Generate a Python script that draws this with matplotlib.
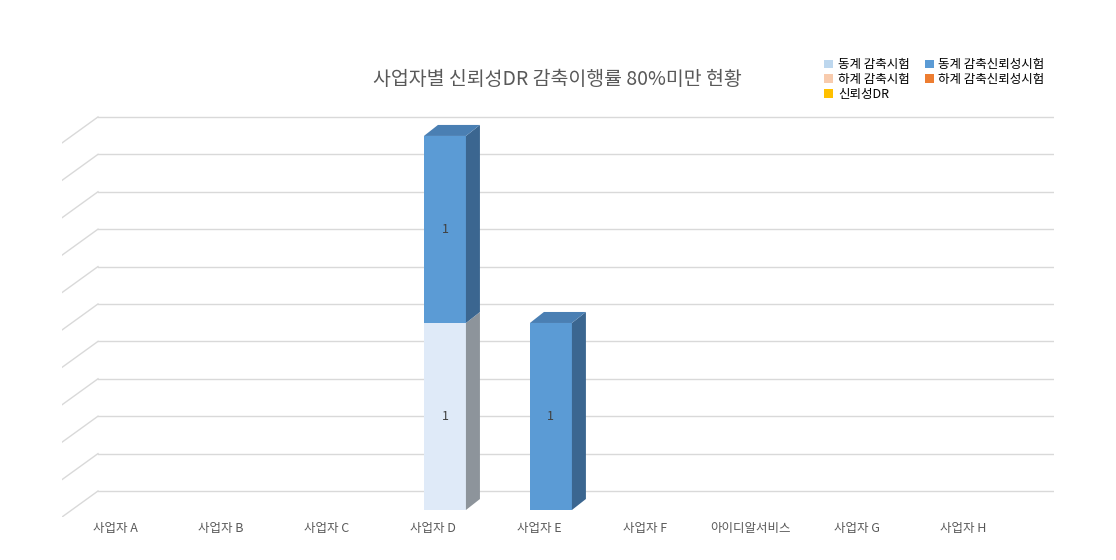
import matplotlib.pyplot as plt
from matplotlib.patches import Polygon, Patch

plt.rcParams['font.family'] = ['Noto Sans CJK KR', 'DejaVu Sans']

categories = ['사업자 A', '사업자 B', '사업자 C', '사업자 D', '사업자 E', '사업자 F', '아이디알서비스', '사업자 G', '사업자 H']
series_names = ['동계 감축시험', '동계 감축신뢰성시험', '하계 감축시험', '하계 감축신뢰성시험', '신뢰성DR']
series_values = [
    [0, 0, 0, 1, 0, 0, 0, 0, 0],
    [0, 0, 0, 1, 1, 0, 0, 0, 0],
    [0, 0, 0, 0, 0, 0, 0, 0, 0],
    [0, 0, 0, 0, 0, 0, 0, 0, 0],
    [0, 0, 0, 0, 0, 0, 0, 0, 0],
]
legend_colors = ['#bdd7ee', '#5b9bd5', '#f8cbad', '#ed7d31', '#ffc000']
front_colors = ['#dfeaf8', '#5b9bd5', '#f8cbad', '#ed7d31', '#ffc000']
side_colors = ['#8d949b', '#3b6690', '#b08c77', '#a9561f', '#b38600']
top_colors = ['#c5d6ea', '#4a7fb3', '#e0b69a', '#d06a26', '#e0a800']

W, H = 1116, 560
fig = plt.figure(figsize=(W / 100, H / 100), dpi=100)
ax = fig.add_axes([62 / W, (H - 517) / H, (1054 - 62) / W, (517 - 115) / H])
ax.set_xlim(-0.5, 8.86)
ax.set_ylim(-0.0374, 2.112)
ax.axis('off')

# grid: back wall lines plus diagonal floor edges
px_x = 106.0
px_y = 187.0
depth_x = 36 / px_x
back_off = 19 / px_y
for k in range(11):
    yb = back_off + 0.2 * k
    ax.plot([-0.5 + depth_x, 8.86], [yb, yb], color='#d9d9d9', lw=1, zorder=0)
    ax.plot([-0.5, -0.5 + depth_x], [yb - 26 / px_y, yb], color='#d9d9d9', lw=1, zorder=0)

bw = 42 / px_x
shift = 12 / px_x
dx = 14 / px_x
dy = 11 / px_y
bottoms = [0.0] * len(categories)
for s, vals in enumerate(series_values):
    for i, v in enumerate(vals):
        if v == 0:
            continue
        x0 = i + shift - bw / 2
        x1 = x0 + bw
        b = bottoms[i]
        t = b + v
        ax.add_patch(Polygon([(x0, b), (x1, b), (x1, t), (x0, t)], closed=True,
                             fc=front_colors[s], ec='none', zorder=3))
        ax.add_patch(Polygon([(x1, b), (x1 + dx, b + dy), (x1 + dx, t + dy), (x1, t)],
                             closed=True, fc=side_colors[s], ec='none', zorder=3))
        ax.add_patch(Polygon([(x0, t), (x1, t), (x1 + dx, t + dy), (x0 + dx, t + dy)],
                             closed=True, fc=top_colors[s], ec='none', zorder=3))
        ax.text((x0 + x1) / 2, (b + t) / 2, str(v), ha='center', va='center',
                fontsize=9, color='#404040', zorder=4)
        bottoms[i] = t

for i, c in enumerate(categories):
    ax.text(i, -0.1, c, ha='center', va='center', fontsize=9, color='#595959')

fig.text(557 / W, 1 - 80 / H, '사업자별 신뢰성DR 감축이행률 80%미만 현황', ha='center', va='center',
         fontsize=14, color='#595959')

order = [0, 2, 4, 1, 3]
handles = [Patch(fc=legend_colors[j], ec='none') for j in order]
labels = [series_names[j] for j in order]
fig.legend(handles, labels, ncol=2, loc='upper left', bbox_to_anchor=(818 / W, 1 - 52 / H),
           frameon=False, fontsize=9, handlelength=0.7, handleheight=0.7,
           handletextpad=0.4, columnspacing=1.2, labelspacing=0.15, borderpad=0)

fig.savefig('out.png', dpi=100)
